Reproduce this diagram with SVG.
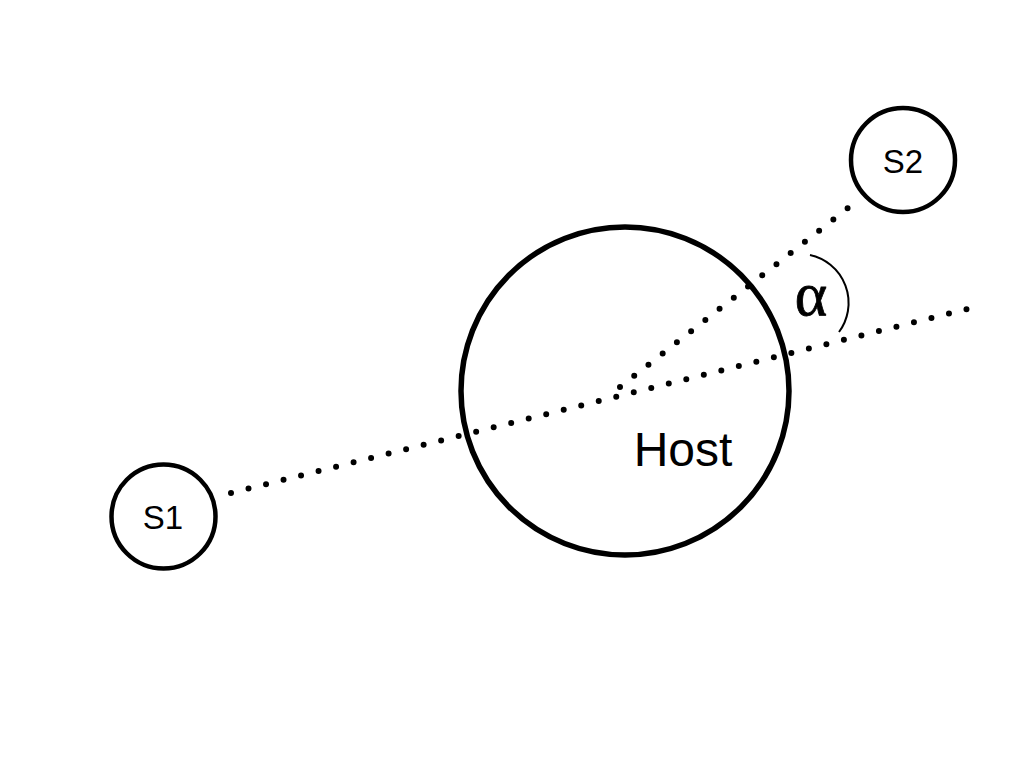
<svg xmlns="http://www.w3.org/2000/svg" width="1024" height="768" viewBox="0 0 1024 768">
<style>
.node{fill:none;stroke:#000}
.lbl{font-family:"Liberation Sans",Arial,sans-serif;fill:#000;text-anchor:middle}
.dots{fill:none;stroke:#000;stroke-width:6;stroke-linecap:round;stroke-dasharray:0 1}
</style>
<rect width="1024" height="768" fill="#fff"/>
<g id="connectors">
<line class="dots" x1="231" y1="493" x2="967" y2="309" pathLength="42.03"/>
<line class="dots" x1="620" y1="387" x2="848" y2="208" pathLength="16.03"/>
<path d="M810 255 A49 49 0 0 1 839 332" fill="none" stroke="#000" stroke-width="2"/>
</g>
<g id="host">
<circle class="node" cx="625" cy="391" r="164" stroke-width="5.5"/>
<text class="lbl" x="683" y="466" font-size="48">Host</text>
</g>
<g id="s1">
<circle class="node" cx="163.5" cy="516.5" r="52" stroke-width="4.5"/>
<text class="lbl" x="163" y="529" font-size="33">S1</text>
</g>
<g id="s2">
<circle class="node" cx="903" cy="160" r="52" stroke-width="4.5"/>
<text class="lbl" x="903" y="173" font-size="33">S2</text>
</g>
<g id="alpha">
<text x="811" y="315" font-family="'Liberation Serif','Times New Roman',serif" font-size="62" stroke="#000" stroke-width="0.8" text-anchor="middle">α</text>
</g>
</svg>
